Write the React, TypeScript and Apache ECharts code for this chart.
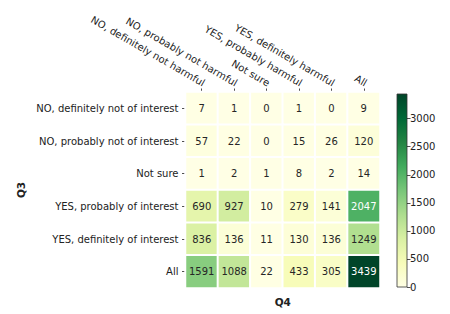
import React, { useEffect, useRef } from "react";
import * as echarts from "echarts";

const q4Categories = [
  "NO, definitely not harmful",
  "NO, probably not harmful",
  "Not sure",
  "YES, probably harmful",
  "YES, definitely harmful",
  "All",
];
const q3Categories = [
  "NO, definitely not of interest",
  "NO, probably not of interest",
  "Not sure",
  "YES, probably of interest",
  "YES, definitely of interest",
  "All",
];
const rowNoDef = [7, 1, 0, 1, 0, 9];
const rowNoProb = [57, 22, 0, 15, 26, 120];
const rowNotSure = [1, 2, 1, 8, 2, 14];
const rowYesProb = [690, 927, 10, 279, 141, 2047];
const rowYesDef = [836, 136, 11, 130, 136, 1249];
const rowAll = [1591, 1088, 22, 433, 305, 3439];
const rows = [rowNoDef, rowNoProb, rowNotSure, rowYesProb, rowYesDef, rowAll];
const colorbarMin = 0;
const colorbarMax = 3439;
const colorbarInterval = 500;

const YLGN = ["#ffffe5", "#f7fcb9", "#d9f0a3", "#addd8e", "#78c679", "#41ab5d", "#238443", "#006837", "#004529"];
const FONT = "DejaVu Sans";

export default function App() {
  const ref = useRef<HTMLDivElement>(null);
  useEffect(() => {
    if (!ref.current) return;
    const chart = echarts.init(ref.current, null, { renderer: "svg" });
    const data: any[] = [];
    rows.forEach((row, r) => {
      row.forEach((v, c) => {
        data.push({
          value: [c, r, v],
          label: { color: v > 1800 ? "#ffffff" : "#262626" },
        });
      });
    });
    const gradient = new echarts.graphic.LinearGradient(
      0, 1, 0, 0,
      YLGN.map((c, i) => ({ offset: i / (YLGN.length - 1), color: c }))
    );
    chart.setOption({
      animation: false,
      backgroundColor: "#ffffff",
      textStyle: { fontFamily: FONT },
      grid: [
        { left: 185.5, top: 92, width: 194.5, height: 196 },
        {
          left: 397,
          top: 94,
          width: 10,
          height: 193,
          show: true,
          backgroundColor: gradient,
          borderColor: "#333333",
          borderWidth: 0.8,
        },
      ],
      xAxis: [
        {
          type: "category",
          data: q4Categories,
          position: "top",
          gridIndex: 0,
          axisLine: { show: false },
          axisTick: { show: true, length: 3.5, alignWithLabel: true, lineStyle: { color: "#222", width: 0.8 } },
          axisLabel: {
            interval: 0,
            rotate: 30,
            fontSize: 10,
            color: "#222",
            margin: 4,
            verticalAlign: "bottom",
            fontFamily: FONT,
          },
          splitLine: { show: false },
        },
        {
          type: "category",
          data: q4Categories,
          position: "bottom",
          gridIndex: 0,
          axisLine: { show: false },
          axisTick: { show: false },
          axisLabel: { show: false },
          name: "Q4",
          nameLocation: "middle",
          nameGap: 8,
          nameTextStyle: { fontWeight: "bold", fontSize: 10.5, color: "#222", fontFamily: FONT },
        },
        { type: "category", gridIndex: 1, show: false, data: ["a"] },
      ],
      yAxis: [
        {
          type: "category",
          data: q3Categories,
          inverse: true,
          gridIndex: 0,
          axisLine: { show: false },
          axisTick: { show: true, length: 3.5, alignWithLabel: true, lineStyle: { color: "#222", width: 0.8 } },
          axisLabel: { interval: 0, fontSize: 10, color: "#222", margin: 7, fontFamily: FONT },
          name: "Q3",
          nameLocation: "middle",
          nameRotate: 90,
          nameGap: 159,
          nameTextStyle: { fontWeight: "bold", fontSize: 10.5, color: "#222", fontFamily: FONT },
        },
        {
          type: "value",
          gridIndex: 1,
          position: "right",
          min: colorbarMin,
          max: colorbarMax,
          interval: colorbarInterval,
          axisLine: { show: false },
          axisTick: { show: true, length: 3.5, lineStyle: { color: "#222", width: 0.8 } },
          axisLabel: {
            fontSize: 10,
            color: "#222",
            margin: 3,
            fontFamily: FONT,
            showMaxLabel: false,
            formatter: (v: number) => String(v),
          },
          splitLine: { show: false },
        },
      ],
      visualMap: {
        type: "continuous",
        show: false,
        min: colorbarMin,
        max: colorbarMax,
        dimension: 2,
        seriesIndex: 0,
        inRange: { color: YLGN },
      },
      series: [
        {
          type: "heatmap",
          xAxisIndex: 0,
          yAxisIndex: 0,
          data,
          itemStyle: { borderColor: "#ffffff", borderWidth: 2 },
          label: { show: true, fontSize: 10, fontFamily: FONT },
          emphasis: { disabled: true },
        },
      ],
    });
    return () => chart.dispose();
  }, []);
  return <div ref={ref} style={{ width: 450, height: 314, position: "absolute", left: 0, top: 0 }} />;
}
